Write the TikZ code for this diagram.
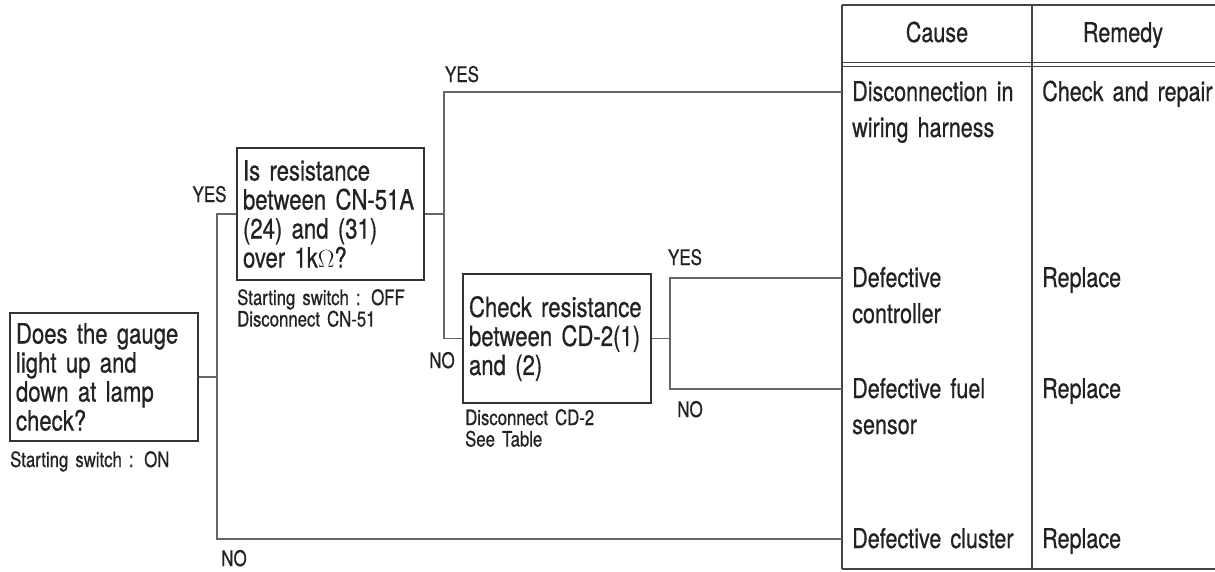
\documentclass[tikz,border=0pt]{standalone}
\usepackage{fontspec}
\setmainfont{TeX Gyre Heros}[FakeStretch=0.79,FakeBold=0.6]
\definecolor{ink}{HTML}{222222}
\definecolor{boxc}{HTML}{333333}
\definecolor{wire}{HTML}{666666}
\definecolor{tabc}{HTML}{444444}
\newcommand\mainf{\fontsize{28}{29}\selectfont}
\newcommand\notef{\fontsize{21.2}{21.5}\selectfont}
\newcommand\lblf{\fontsize{21.5}{22}\selectfont}
\newcommand\cellf{\fontsize{27.3}{36}\selectfont}
\begin{document}
\begin{tikzpicture}[x=1pt,y=-1pt,
  qbox/.style={draw=boxc, line width=1.6pt, align=left, inner xsep=6pt, inner ysep=2pt, font=\mainf, text=ink},
  note/.style={anchor=base west, align=left, inner sep=0pt, font=\notef, text=ink, text width=200pt},
  lbl/.style={anchor=base, inner sep=0pt, font=\lblf, text=ink},
  cell/.style={anchor=base west, align=left, inner sep=0pt, font=\cellf, text=ink, text width=200pt},
  conn/.style={draw=wire, line width=1.2pt},
  tab/.style={draw=tabc, line width=1.4pt}]
\useasboundingbox (0,0) rectangle (1215,571);

% question boxes
\node[qbox, text width=176pt, minimum height=128pt] (q1) at (104,377)
  {\mbox{Does the gauge}\\\mbox{light up and}\\\mbox{down at lamp}\\\mbox{check?}};
\node[qbox, text width=175pt, minimum height=132pt] (q2) at (330.5,214)
  {\mbox{Is resistance}\\\mbox{between CN-51A}\\\mbox{(24) and (31)}\\\mbox{over 1k$\Omega$?}};
\node[qbox, text width=176pt, minimum height=129pt] (q3) at (557,338.5)
  {\mbox{Check resistance}\\\mbox{between CD-2(1)}\\\mbox{and (2)}};

% notes
\node[note] (n1) at (10,467) {Starting switch : ON};
\node[note] (n2) at (237,305) {Starting switch : OFF\\Disconnect CN-51};
\node[note] (n3) at (465,425) {Disconnect CD-2\\See Table};

% table frame
\draw[tab] (842,5) -- (1215,5);
\draw[tab] (842,5) -- (842,569);
\draw[tab] (1032,5) -- (1032,569);
\draw[tab] (842,569) -- (1215,569);
\draw[draw=tabc, line width=1pt] (842,62) -- (1215,62);
\draw[draw=tabc, line width=1pt] (842,66) -- (1215,66);

\node[cell, anchor=base, text width=] (hc) at (937,42) {Cause};
\node[cell, anchor=base, text width=] (hr) at (1123,42) {Remedy};

\node[cell] (c1) at (852,101) {Disconnection in\\wiring harness};
\node[cell] (c2) at (852,287) {Defective\\controller};
\node[cell] (c3) at (852,398) {Defective fuel\\sensor};
\node[cell] (c4) at (852,548) {Defective cluster};
\node[cell] (r1) at (1042,101) {Check and repair};
\node[cell] (r2) at (1042,287) {Replace};
\node[cell] (r3) at (1042,398) {Replace};
\node[cell] (r4) at (1042,548) {Replace};

% connector targets at table edge
\coordinate (t1) at (842,92);
\coordinate (t2) at (842,278);
\coordinate (t3) at (842,389);
\coordinate (t4) at (842,539);
\coordinate (v1) at (217,0);
\coordinate (v2) at (444,0);
\coordinate (v3) at (670,0);

% connectors
\draw[conn] (q1.east) -- (q1.east -| v1);
\draw[conn] (q2.west) -| (t4 -| v1) -- (t4);
\draw[conn] (q2.east) -- (q2.east -| v2);
\draw[conn] (t1) -| (q3.west -| v2) -- (q3.west);
\draw[conn] (q3.east) -- (q3.east -| v3);
\draw[conn] (t2) -| (t3 -| v3) -- (t3);

% labels
\node[lbl] (y1) at (209.5,202) {YES};
\node[lbl] (o1) at (234,566) {NO};
\node[lbl] (y2) at (462,82) {YES};
\node[lbl] (o2) at (442,368) {NO};
\node[lbl] (y3) at (685,265) {YES};
\node[lbl] (o3) at (690,417) {NO};
\end{tikzpicture}
\end{document}
